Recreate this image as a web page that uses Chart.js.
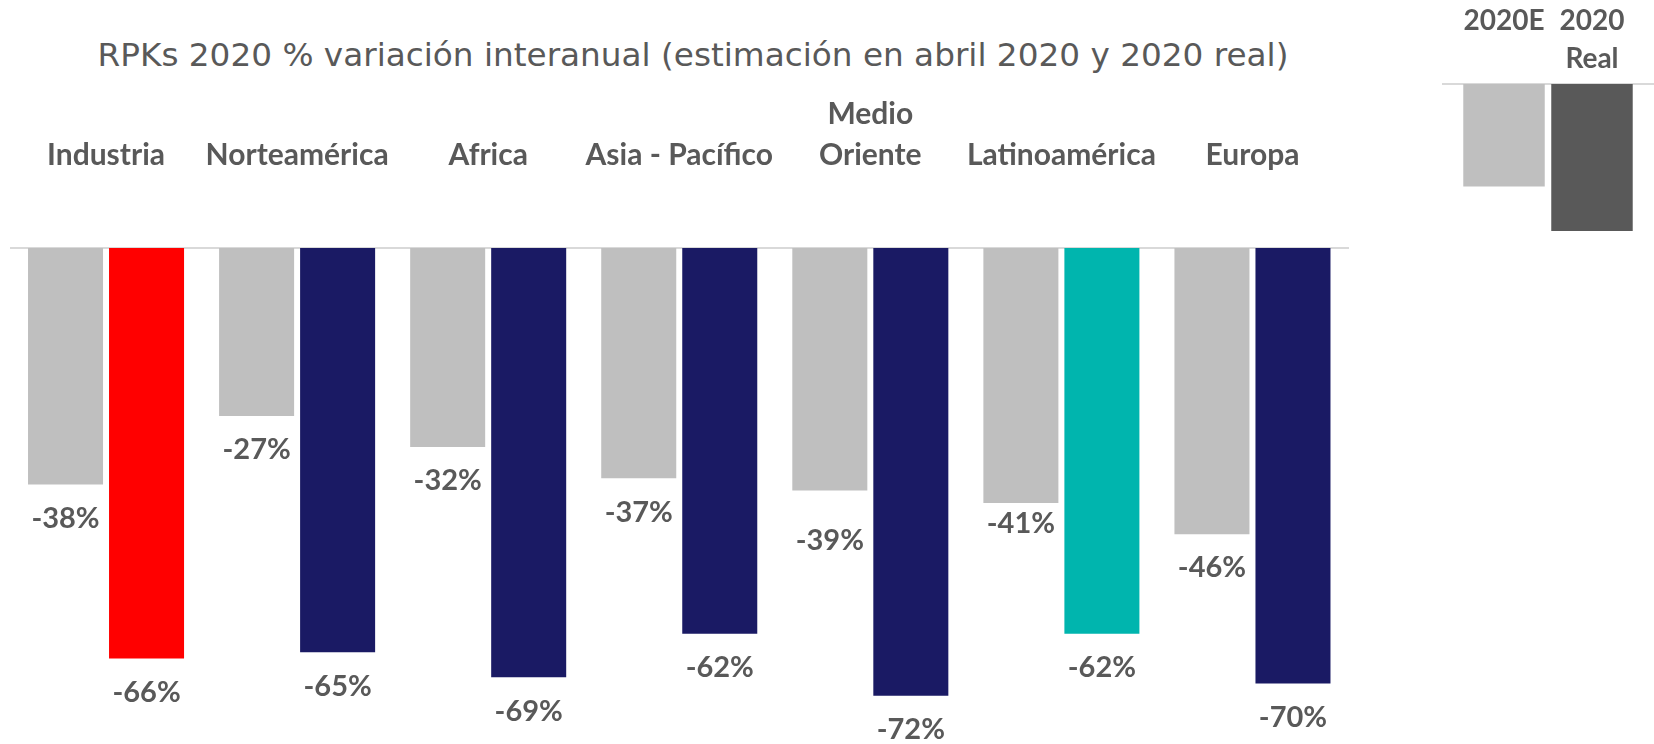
<!DOCTYPE html>
<html lang="es">
<head>
<meta charset="utf-8">
<title>RPKs 2020</title>
<script src="https://cdn.jsdelivr.net/npm/chart.js@4.4.1/dist/chart.umd.min.js"></script>
<style>
  html, body { margin: 0; padding: 0; background: #fff; }
  body { width: 1654px; height: 744px; position: relative; overflow: hidden; }
  #title {
    position: absolute; left: 0; top: 34px; width: 1386px;
    text-align: center; white-space: nowrap;
    font-family: "DejaVu Sans", sans-serif; font-size: 32.7px; line-height: 42px;
    color: #595959;
  }
  #mainChart { position: absolute; left: 0; top: 0; }
  #legendChart { position: absolute; left: 1442px; top: 0; }
</style>
</head>
<body>
<div id="title">RPKs 2020 % variación interanual (estimación en abril 2020 y 2020 real)</div>
<canvas id="mainChart" width="1654" height="744"></canvas>
<canvas id="legendChart" width="212" height="240"></canvas>

<script>
// === DATA ===
const categories = ["Industria", "Norteamérica", "Africa", "Asia - Pacífico", ["Medio", "Oriente"], "Latinoamérica", "Europa"];
const estimate2020 = [-38, -27, -32, -37, -39, -41, -46];   // estimación abril 2020
const real2020 = [-66, -65, -69, -62, -72, -62, -70];       // 2020 real
const seriesNames = ["2020E", "2020 Real"];
const legendNames = [["2020E"], ["2020", "Real"]];
const legendValues = [-23, -33];

// === STYLE ===
const GREY_TEXT = "#595959";
const ESTIMATE_COLOR = "#bfbfbf";
const realColors = ["#ff0000", "#1a1a64", "#1a1a64", "#1a1a64", "#1a1a64", "#00b5ae", "#1a1a64"];
const LABEL_FONT = "bold 29px Lato";

// value labels under each bar
const valueLabels = {
    id: "valueLabels",
    afterDatasetsDraw(chart, args, opts) {
        const ctx = chart.ctx;
        ctx.save();
        ctx.font = opts.font;
        ctx.fillStyle = opts.color;
        ctx.textAlign = "center";
        ctx.textBaseline = "middle";
        chart.data.datasets.forEach((ds, i) => {
            chart.getDatasetMeta(i).data.forEach((bar, j) => {
                const nudge = (opts.nudge[i] && opts.nudge[i][j]) || 0;
                ctx.fillText(ds.data[j] + "%", bar.x, bar.y + opts.offset + nudge);
            });
        });
        ctx.restore();
    }
};

// series names above the legend bars
const legendNamesPlugin = {
    id: "legendNames",
    afterDatasetsDraw(chart, args, opts) {
        const ctx = chart.ctx;
        ctx.save();
        ctx.font = opts.font;
        ctx.fillStyle = opts.color;
        ctx.textAlign = "center";
        ctx.textBaseline = "middle";
        chart.data.datasets.forEach((ds, i) => {
            const bar = chart.getDatasetMeta(i).data[0];
            opts.names[i].forEach((line, k) => {
                ctx.fillText(line, bar.x, opts.top + k * opts.lineHeight);
            });
        });
        ctx.restore();
    }
};

// === MAIN CHART ===
new Chart(document.getElementById("mainChart"), {
    type: "bar",
    data: {
        labels: categories,
        datasets: [
            { label: seriesNames[0], data: estimate2020, backgroundColor: ESTIMATE_COLOR },
            { label: seriesNames[1], data: real2020, backgroundColor: realColors }
        ]
    },
    options: {
        responsive: false,
        animation: false,
        datasets: { bar: { categoryPercentage: 0.848, barPercentage: 0.926 } },
        layout: { padding: { top: 93.5, bottom: 4.6, left: 10.5, right: 306 } },
        plugins: {
            legend: { display: false },
            tooltip: { enabled: false },
            // labels moved by hand in the original slide (Medio Oriente / Latinoamérica estimates)
            valueLabels: { font: LABEL_FONT, color: GREY_TEXT, offset: 34, nudge: { 0: { 4: 16, 5: -13 } } }
        },
        scales: {
            x: {
                position: "top",
                // invisible tick marks give the gap between names and axis line
                grid: { display: true, drawOnChartArea: false, drawTicks: true, tickLength: 72.5, color: "rgba(0,0,0,0)" },
                border: { display: true, color: "#d9d9d9", width: 2 },
                ticks: {
                    color: GREY_TEXT,
                    font: { family: "Lato", weight: "bold", size: 30, lineHeight: 1.367 },
                    padding: 0,
                    maxRotation: 0, minRotation: 0, autoSkip: false
                }
            },
            y: { display: false, min: -79, max: 0 }
        }
    },
    plugins: [valueLabels]
});

// === LEGEND CHART ===
new Chart(document.getElementById("legendChart"), {
    type: "bar",
    data: {
        labels: [""],
        datasets: [
            { label: seriesNames[0], data: [legendValues[0]], backgroundColor: ESTIMATE_COLOR },
            { label: seriesNames[1], data: [legendValues[1]], backgroundColor: GREY_TEXT }
        ]
    },
    options: {
        responsive: false,
        animation: false,
        datasets: { bar: { categoryPercentage: 0.83, barPercentage: 0.926 } },
        layout: { padding: { top: 84, bottom: 0, left: 0, right: 0 } },
        plugins: {
            legend: { display: false },
            tooltip: { enabled: false },
            legendNames: { names: legendNames, font: "bold 28px Lato", color: GREY_TEXT, top: 21, lineHeight: 38 }
        },
        scales: {
            x: {
                position: "top",
                grid: { display: false, drawTicks: false },
                border: { display: true, color: "#d9d9d9", width: 2 },
                ticks: { display: false }
            },
            y: { display: false, min: -35, max: 0 }
        }
    },
    plugins: [legendNamesPlugin]
});
</script>
</body>
</html>
